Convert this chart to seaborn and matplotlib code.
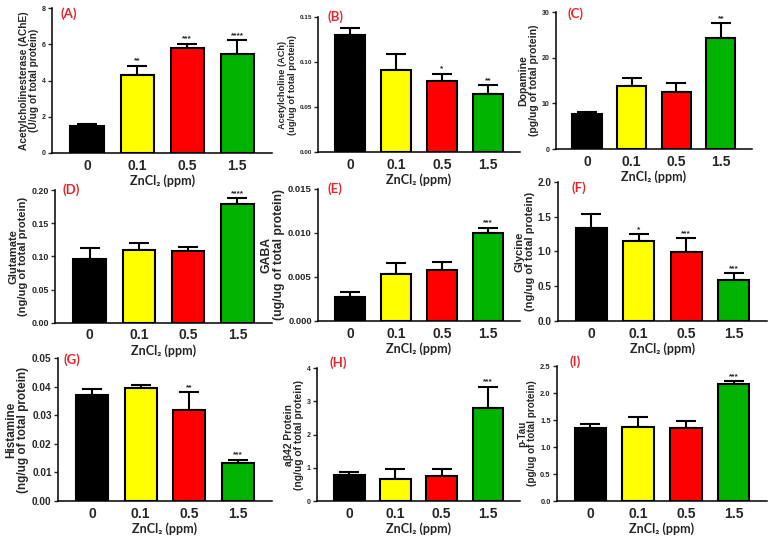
import matplotlib
matplotlib.use("Agg")
import matplotlib.pyplot as plt
import seaborn as sns
import pandas as pd
import numpy as np

# ZnCl2 dose groups
doses = ["0", "0.1", "0.5", "1.5"]
bar_colors = ["#000000", "#ffff00", "#ff0000", "#00b300"]

# means and upper SEM
ache_mean = [1.50, 4.33, 5.82, 5.45]
ache_err = [0.11, 0.48, 0.22, 0.77]
ache_sig = ["", "**", "***", "****"]

ach_mean = [0.130, 0.091, 0.079, 0.065]
ach_err = [0.008, 0.0177, 0.0077, 0.009]
ach_sig = ["", "", "*", "**"]

dopa_mean = [7.6, 13.8, 12.4, 24.4]
dopa_err = [0.5, 1.8, 2.1, 3.1]
dopa_sig = ["", "", "", "**"]

glu_mean = [0.0955, 0.110, 0.109, 0.1785]
glu_err = [0.018, 0.011, 0.006, 0.009]
glu_sig = ["", "", "", "****"]

gaba_mean = [0.00277, 0.00534, 0.0058, 0.0100]
gaba_err = [0.00056, 0.00125, 0.00087, 0.00057]
gaba_sig = ["", "", "", "***"]

gly_mean = [1.34, 1.153, 0.986, 0.584]
gly_err = [0.196, 0.096, 0.201, 0.10]
gly_sig = ["", "*", "***", "***"]

hist_mean = [0.0369, 0.0395, 0.0319, 0.0134]
hist_err = [0.0024, 0.001, 0.0061, 0.001]
hist_sig = ["", "", "**", "***"]

abeta_mean = [0.79, 0.66, 0.75, 2.80]
abeta_err = [0.07, 0.29, 0.22, 0.64]
abeta_sig = ["", "", "", "***"]

ptau_mean = [1.346, 1.364, 1.346, 2.173]
ptau_err = [0.074, 0.186, 0.129, 0.043]
ptau_sig = ["", "", "", "***"]

panels = [
    ("(A)", "Acetylcholinesterase (AChE)\n(U/ug of total protein)", ache_mean, ache_err, ache_sig, [0, 2, 4, 6, 8], "{:.0f}"),
    ("(B)", "Acetylcholine (ACh)\n(ug/ug of total protein)", ach_mean, ach_err, ach_sig, [0, 0.05, 0.10, 0.15], "{:.2f}"),
    ("(C)", "Dopamine\n(pg/ug of total protein)", dopa_mean, dopa_err, dopa_sig, [0, 10, 20, 30], "{:.0f}"),
    ("(D)", "Glutamate\n(ng/ug of total protein)", glu_mean, glu_err, glu_sig, [0, 0.05, 0.10, 0.15, 0.20], "{:.2f}"),
    ("(E)", "GABA\n(ug/ug of total protein)", gaba_mean, gaba_err, gaba_sig, [0, 0.005, 0.010, 0.015], "{:.3f}"),
    ("(F)", "Glycine\n(ng/ug of total protein)", gly_mean, gly_err, gly_sig, [0, 0.5, 1.0, 1.5, 2.0], "{:.1f}"),
    ("(G)", "Histamine\n(ng/ug of total protein)", hist_mean, hist_err, hist_sig, [0, 0.01, 0.02, 0.03, 0.04, 0.05], "{:.2f}"),
    ("(H)", "a\u03b242 Protein\n(ng/ug of total protein)", abeta_mean, abeta_err, abeta_sig, [0, 1, 2, 3, 4], "{:.0f}"),
    ("(I)", "p-Tau\n(pg/ug of total protein)", ptau_mean, ptau_err, ptau_sig, [0, 0.5, 1.0, 1.5, 2.0, 2.5], "{:.1f}"),
]

# layout: axes rects (figure fraction), tick/label sizes, panel-label spot
rects = [
    [0.0674, 0.7167, 0.2856, 0.2683],
    [0.4125, 0.7185, 0.2620, 0.2500],
    [0.7211, 0.7240, 0.2542, 0.2537],
    [0.0713, 0.4020, 0.2815, 0.2460],
    [0.4125, 0.4056, 0.2620, 0.2444],
    [0.7237, 0.4056, 0.2711, 0.2574],
    [0.0752, 0.0722, 0.2776, 0.2648],
    [0.4112, 0.0722, 0.2633, 0.2463],
    [0.7224, 0.0722, 0.2724, 0.2500],
]
ytick_sizes = [5, 4.6, 5, 6.4, 6.8, 7.2, 7.2, 5, 5.4]
ylabel_sizes = [7.3, 6.7, 7.6, 8.0, 8.8, 8.0, 8.5, 7.4, 7.1]
tag_pos = [(0.04, 0.96), (0.045, 1.0), (0.06, 0.99), (0.035, 1.0), (0.045, 1.0),
           (0.065, 0.96), (0.025, 0.99), (0.06, 1.04), (0.06, 1.03)]

sns.set_theme(style="ticks")
plt.rcParams["font.family"] = ["Liberation Sans", "DejaVu Sans"]
plt.rcParams["font.weight"] = "bold"

fig = plt.figure(figsize=(7.71, 5.40), dpi=100)

for i, (tag, ylab, mean, err, sig, yticks, fmt) in enumerate(panels):
    ax = fig.add_axes(rects[i])
    ax.patch.set_alpha(0)  # let neighbouring x labels show through
    df = pd.DataFrame({"dose": doses, "value": mean})
    sns.barplot(data=df, x="dose", y="value", hue="dose", palette=bar_colors,
                saturation=1, legend=False, width=0.66, edgecolor="black",
                linewidth=1.5, ax=ax, zorder=3)
    pos = np.arange(len(doses))
    ax.errorbar(pos, mean, yerr=[np.zeros(len(err)), err], fmt="none",
                ecolor="black", elinewidth=1.5, capsize=7.5, capthick=1.5, zorder=2)
    top = yticks[-1]
    for p, m, e, s in zip(pos, mean, err, sig):
        if s:
            ax.text(p, m + e + top * 0.01, s, ha="center", va="bottom",
                    fontsize=6, fontweight="bold")
    ax.set_xlim(-0.7, 3.7)
    ax.set_ylim(0, top)
    ax.set_yticks(yticks)
    ax.set_yticklabels([fmt.format(t) for t in yticks], fontsize=ytick_sizes[i], fontweight="bold")
    ax.set_xticks(pos)
    ax.set_xticklabels(doses, fontsize=10, fontweight="bold")
    ax.tick_params(axis="x", length=0, pad=4)
    ax.tick_params(axis="y", length=3, width=1.0, pad=1.5)
    ax.set_ylabel(ylab, fontsize=ylabel_sizes[i], fontweight="bold", labelpad=2, linespacing=1.05)
    ax.set_xlabel("ZnCl\u2082 (ppm)", fontsize=9, fontweight="bold", family=["Lato", "DejaVu Sans"], labelpad=1)
    sns.despine(ax=ax)
    for sp in ("left", "bottom"):
        ax.spines[sp].set_linewidth(1.1)
        ax.spines[sp].set_color("black")
    ax.text(tag_pos[i][0], tag_pos[i][1], tag, transform=ax.transAxes, color="#e3262b",
            fontsize=9.5, fontweight="bold", family=["Lato", "DejaVu Sans"],
            ha="left", va="center")

fig.savefig("out.png", dpi=100)
